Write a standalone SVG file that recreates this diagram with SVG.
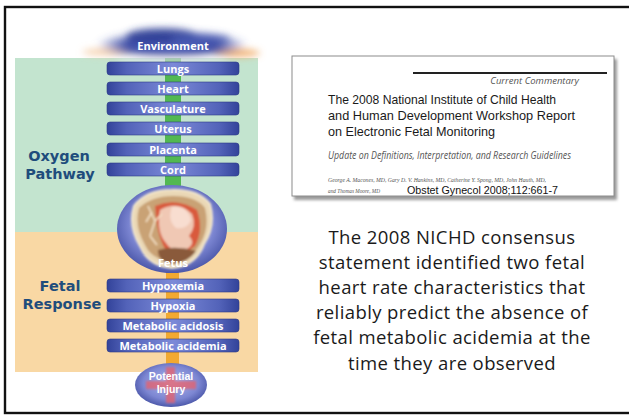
<svg xmlns="http://www.w3.org/2000/svg" width="629" height="415" viewBox="0 0 629 415">
  <defs>
    <linearGradient id="barFill" x1="0" y1="0" x2="1" y2="0">
      <stop offset="0" stop-color="#33439a"/>
      <stop offset="0.15" stop-color="#5363b9"/>
      <stop offset="0.5" stop-color="#7c8ad8"/>
      <stop offset="0.85" stop-color="#5363b9"/>
      <stop offset="1" stop-color="#33439a"/>
    </linearGradient>
    <radialGradient id="orbFill" cx="0.5" cy="0.45" r="0.55">
      <stop offset="0" stop-color="#b0b8ec"/>
      <stop offset="0.7" stop-color="#7c86d2"/>
      <stop offset="1" stop-color="#4c58aa"/>
    </radialGradient>
    <radialGradient id="cloudFill" cx="0.5" cy="0.5" r="0.5">
      <stop offset="0" stop-color="#5a6bc4"/>
      <stop offset="0.6" stop-color="#3c4ca6"/>
      <stop offset="1" stop-color="#3c4ca6" stop-opacity="0"/>
    </radialGradient>
    <filter id="soft" x="-30%" y="-80%" width="160%" height="260%">
      <feGaussianBlur stdDeviation="3.5"/>
    </filter>
    <filter id="softer" x="-20%" y="-20%" width="140%" height="140%">
      <feGaussianBlur stdDeviation="0.8"/>
    </filter>
    <filter id="shadow" x="-5%" y="-5%" width="110%" height="115%">
      <feGaussianBlur stdDeviation="1.5"/>
    </filter>
    <style>
      .bar { fill: url(#barFill); stroke: #2b3a86; stroke-width: 0.6; }
      .bl { font-family: "Open Sans", "DejaVu Sans", sans-serif; font-weight: 700; font-size: 11px; fill: #ffffff; text-anchor: middle; }
      .inj { font-family: "Liberation Sans", Arial, sans-serif; font-weight: 700; font-size: 10.5px; fill: #ffffff; text-anchor: middle; }
      .side { font-family: "DejaVu Sans", sans-serif; font-weight: 700; font-size: 14.5px; fill: #1f4d7c; text-anchor: middle; }
      .body { font-family: "Open Sans", "Lato", sans-serif; font-size: 18.5px; letter-spacing: 0.4px; fill: #1a1a1a; text-anchor: middle; }
      .title { font-family: "Liberation Sans", Arial, sans-serif; font-size: 13.5px; fill: #1a1a1a; }
      .ital { font-family: "Open Sans", "Liberation Sans", sans-serif; font-style: italic; fill: #555555; }
      .auth { font-family: "Liberation Serif", serif; font-style: italic; fill: #555555; font-size: 6px; }
    </style>
  </defs>

  <!-- page background and frame -->
  <rect x="0" y="0" width="629" height="415" fill="#ffffff"/>
  <rect x="5" y="7" width="630" height="406" fill="none" stroke="#111111" stroke-width="2.4"/>

  <!-- coloured zones of the oxygen pathway figure -->
  <rect x="15" y="58" width="243" height="175" fill="#c3e4cf"/>
  <rect x="15" y="232" width="243" height="140" fill="#f9d8a4"/>
  <text class="side" x="59" y="161">Oxygen</text>
  <text class="side" x="60" y="179">Pathway</text>
  <text class="side" x="60" y="291">Fetal</text>
  <text class="side" x="62" y="308.5">Response</text>

  <!-- connectors between the stages -->
  <g id="connectors">
    <rect x="165" y="58" width="16" height="128" fill="#52b852"/>
    <rect x="166" y="268" width="13" height="104" fill="#f2a930"/>
  </g>

  <!-- environment cloud -->
  <g id="environment">
    <g filter="url(#soft)">
      <ellipse cx="236" cy="53" rx="24" ry="4" fill="#f0a860" opacity="0.85"/>
      <ellipse cx="108" cy="52" rx="26" ry="3.5" fill="#f3c090" opacity="0.7"/>
      <ellipse cx="172" cy="45" rx="76" ry="15" fill="url(#cloudFill)"/>
      <ellipse cx="162" cy="36" rx="36" ry="8" fill="#2c3c94" opacity="0.85"/>
      <ellipse cx="200" cy="38" rx="30" ry="5" fill="#4b5cb4" opacity="0.7"/>
      <ellipse cx="172" cy="60" rx="55" ry="3" fill="#ffffff" opacity="0.75"/>
    </g>
    <text class="bl" x="173" y="50" font-size="11.5">Environment</text>
  </g>

  <g id="lungs"><rect class="bar" x="107" y="62" width="132" height="13" rx="3"/><text class="bl" x="173" y="72.5">Lungs</text></g>
  <g id="heart"><rect class="bar" x="107" y="82" width="132" height="13" rx="3"/><text class="bl" x="173" y="92.5">Heart</text></g>
  <g id="vasculature"><rect class="bar" x="107" y="102" width="132" height="13" rx="3"/><text class="bl" x="173" y="112.5">Vasculature</text></g>
  <g id="uterus"><rect class="bar" x="107" y="122" width="132" height="13" rx="3"/><text class="bl" x="173" y="132.5">Uterus</text></g>
  <g id="placenta"><rect class="bar" x="107" y="143" width="132" height="13" rx="3"/><text class="bl" x="173" y="153.5">Placenta</text></g>
  <g id="cord"><rect class="bar" x="107" y="163" width="132" height="13" rx="3"/><text class="bl" x="173" y="173.5">Cord</text></g>

  <!-- fetus in utero -->
  <g id="fetus">
    <ellipse cx="172" cy="229" rx="55" ry="44" fill="url(#orbFill)"/>
    <g filter="url(#softer)">
      <path d="M134 206 Q146 190 172 190 Q198 189 210 204 Q216 226 204 244 Q196 266 172 268 Q148 266 140 246 Q128 226 134 206 Z" fill="#ead8b6" stroke="#f3e7cd" stroke-width="2"/>
      <path d="M139 208 Q152 196 173 196 Q196 196 205 208 Q210 228 200 244 Q190 262 172 262 Q152 260 145 245 Q134 226 139 208 Z" fill="#c9a275"/>
      <path d="M155 206 Q176 197 197 210 Q204 230 195 246 Q182 257 168 253 Q157 240 155 206 Z" fill="#d95a3c"/>
      <path d="M160 210 Q178 200 192 214 Q197 226 189 236 Q197 244 185 250 Q172 253 166 243 Q156 232 160 210 Z" fill="#f0c8b4"/>
      <path d="M172 207 Q187 205 191 220 Q187 230 176 228 Q167 220 172 207 Z" fill="#f8ddd0"/>
      <path d="M148 206 L155 221 L150 236 M155 221 L162 214 M150 236 L157 245 M152 212 L146 222" stroke="#f4e1c6" stroke-width="1.6" fill="none"/>
      <path d="M158 250 Q176 245 196 251 Q188 263 172 264 Q158 262 158 250 Z" fill="#8a5a3a"/>
    </g>
    <text class="bl" x="173" y="267" font-size="11">Fetus</text>
  </g>

  <g id="hypoxemia"><rect class="bar" x="107" y="279" width="132" height="13" rx="3"/><text class="bl" x="173" y="289.5">Hypoxemia</text></g>
  <g id="hypoxia"><rect class="bar" x="107" y="299" width="132" height="13" rx="3"/><text class="bl" x="173" y="309.5">Hypoxia</text></g>
  <g id="metabolic-acidosis"><rect class="bar" x="107" y="319" width="132" height="13" rx="3"/><text class="bl" x="173" y="329.5">Metabolic acidosis</text></g>
  <g id="metabolic-acidemia"><rect class="bar" x="107" y="339" width="132" height="13" rx="3"/><text class="bl" x="173" y="349.5">Metabolic acidemia</text></g>

  <!-- potential injury -->
  <g id="potential-injury">
    <ellipse cx="171" cy="385" rx="36" ry="22" fill="url(#orbFill)"/>
    <g filter="url(#softer)" opacity="0.75">
      <rect x="166" y="367" width="9" height="36" fill="#e8606a"/>
      <rect x="146" y="381" width="50" height="8" fill="#e8606a"/>
    </g>
    <text class="inj" x="171" y="380">Potential</text>
    <text class="inj" x="171" y="392.5">Injury</text>
  </g>

  <!-- journal article excerpt -->
  <g id="article">
    <rect x="294" y="59" width="323" height="141" fill="#9a9a9a" filter="url(#shadow)"/>
    <rect x="292" y="56" width="322" height="140" fill="#ffffff" stroke="#8c8c8c" stroke-width="1"/>
    <line x1="413" y1="73" x2="607" y2="73" stroke="#222222" stroke-width="2"/>
    <text class="ital" x="579" y="84" font-size="9.5" text-anchor="end">Current Commentary</text>
    <text class="title" x="328" y="104" textLength="228" lengthAdjust="spacingAndGlyphs">The 2008 National Institute of Child Health</text>
    <text class="title" x="328" y="120" textLength="247" lengthAdjust="spacingAndGlyphs">and Human Development Workshop Report</text>
    <text class="title" x="328" y="136" textLength="167" lengthAdjust="spacingAndGlyphs">on Electronic Fetal Monitoring</text>
    <text class="ital" x="328" y="159" font-size="10" textLength="243" lengthAdjust="spacingAndGlyphs">Update on Definitions, Interpretation, and Research Guidelines</text>
    <text class="auth" x="328" y="182" textLength="218" lengthAdjust="spacingAndGlyphs">George A. Macones, MD, Gary D. V. Hankins, MD, Catherine Y. Spong, MD, John Hauth, MD,</text>
    <text class="auth" x="328" y="193" textLength="52" lengthAdjust="spacingAndGlyphs">and Thomas Moore, MD</text>
    <text x="407" y="194" font-family="Liberation Sans, Arial, sans-serif" font-size="10" fill="#111111" textLength="151" lengthAdjust="spacingAndGlyphs">Obstet Gynecol 2008;112:661-7</text>
  </g>

  <!-- summary statement -->
  <g id="statement">
    <text class="body" x="452" y="244">The 2008 NICHD consensus</text>
    <text class="body" x="452" y="269">statement identified two fetal</text>
    <text class="body" x="452" y="294">heart rate characteristics that</text>
    <text class="body" x="452" y="319">reliably predict the absence of</text>
    <text class="body" x="452" y="344">fetal metabolic acidemia at the</text>
    <text class="body" x="452" y="370">time they are observed</text>
  </g>
</svg>
